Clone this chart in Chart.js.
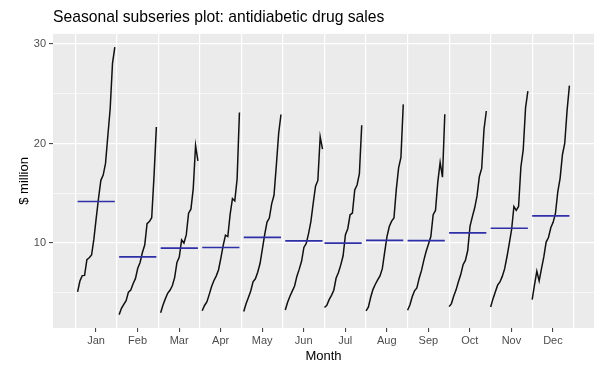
<!DOCTYPE html>
<html><head><meta charset="utf-8">
<script src="https://cdn.jsdelivr.net/npm/chart.js@4/dist/chart.umd.min.js"></script>
<style>html,body{margin:0;padding:0;background:#fff}#wrap{width:600px;height:371px}</style>
</head><body><div id="wrap"><canvas id="c" width="600" height="371"></canvas></div>
<script>
// ---- data: antidiabetic drug sales ($ million), one array per month ----
const months = ['Jan','Feb','Mar','Apr','May','Jun','Jul','Aug','Sep','Oct','Nov','Dec'];
const firstYear = [1992,1992,1992,1992,1992,1992,1991,1991,1991,1991,1991,1991];
const jan = [5.09,6.19,6.73,6.75,8.33,8.52,8.80,10.39,12.51,14.50,16.30,16.83,18.00,20.78,23.49,28.04,29.67];
const feb = [2.81,3.45,3.84,4.22,5.07,5.28,5.92,6.42,7.46,8.05,9.05,9.80,11.94,12.15,12.54,16.76,21.65];
const mar = [2.99,3.77,4.39,4.95,5.26,5.71,6.53,8.06,8.59,10.31,10.00,10.82,13.00,13.40,15.47,19.79,18.26];
const apr = [3.20,3.73,4.08,4.82,5.60,6.21,6.68,7.30,8.47,9.75,10.79,10.65,12.88,14.46,14.23,16.43,23.11];
const may = [3.13,3.91,4.54,5.19,6.11,6.41,7.06,7.94,9.39,10.85,12.11,12.51,13.94,14.80,17.78,21.00,22.91];
const jun = [3.27,4.05,4.65,5.17,5.69,6.67,7.38,8.17,9.56,9.96,10.95,12.16,13.99,15.71,16.29,20.68,19.43];
const jul = [3.53,3.74,4.32,4.75,5.26,6.49,7.05,7.81,8.72,10.83,11.44,12.84,13.00,15.34,15.83,16.98,21.83];
const aug = [3.18,3.56,4.56,5.35,5.86,6.30,6.70,7.43,9.07,10.64,11.66,12.20,12.52,15.37,17.55,18.61,23.93];
const sep = [3.25,3.78,4.61,5.20,5.49,6.47,7.25,8.28,9.18,9.91,10.65,12.85,13.27,16.14,18.10,16.62,22.93];
const oct = [3.61,3.92,4.67,5.30,6.12,6.83,7.82,8.26,9.25,11.71,12.65,13.54,14.73,16.69,17.50,21.43,23.26];
const nov = [3.57,4.39,5.09,5.77,6.09,6.65,7.40,8.60,9.93,11.34,13.67,13.29,13.67,17.64,19.35,23.58,25.25];
const dec = [4.31,5.81,7.18,6.20,7.42,8.61,10.10,10.56,11.53,12.08,12.97,15.13,16.50,18.87,20.03,23.33,25.81];
const yMajorTicks = [10,20,30];
const yMinorTicks = [5,15,25];

const sales = [jan,feb,mar,apr,may,jun,jul,aug,sep,oct,nov,dec];
const startYear = 1991, endYear = 2008;
const seasonWidth = (endYear - startYear) * 1.05;

const datasets = [];
let allX = [], allY = [];
sales.forEach((vals, m) => {
  const pts = vals.map((v, i) => ({x: m + 1 + (firstYear[m] + i - startYear) / seasonWidth, y: v}));
  pts.forEach(p => { allX.push(p.x); allY.push(p.y); });
  datasets.push({data: pts, borderColor: '#111', borderWidth: 1.5, pointRadius: 0, showLine: true, order: 2, tension: 0});
  const avg = vals.reduce((a, b) => a + b, 0) / vals.length;
  datasets.push({data: [{x: pts[0].x, y: avg}, {x: pts[pts.length - 1].x, y: avg}],
    borderColor: '#2f2fa8', borderWidth: 1.7, pointRadius: 0, showLine: true, order: 1});
});
const xr = [Math.min(...allX), Math.max(...allX)];
const yr = [Math.min(...allY), Math.max(...allY)];
const xPad = (xr[1] - xr[0]) * 0.05, yPad = (yr[1] - yr[0]) * 0.05;

const xTicks = [];
for (let k = 1; k <= 13; k++) { xTicks.push(k); if (k <= 12) xTicks.push(k + 0.5); }
const yTicks = [...yMinorTicks, ...yMajorTicks].sort((a, b) => a - b);
const isHalf = v => Math.abs(v - Math.floor(v) - 0.5) < 1e-6;

Chart.defaults.font.family = "'Liberation Sans', Arial, sans-serif";

const bgPlugin = {
  id: 'bg',
  beforeDraw(chart) {
    const {ctx, chartArea: a} = chart;
    ctx.save();
    ctx.fillStyle = '#fff';
    ctx.fillRect(0, 0, chart.width, chart.height);
    ctx.fillStyle = '#EBEBEB';
    ctx.fillRect(a.left, a.top, a.right - a.left, a.bottom - a.top);
    ctx.restore();
  }
};

new Chart(document.getElementById('c'), {
  type: 'scatter',
  data: {datasets},
  plugins: [bgPlugin],
  options: {
    responsive: false,
    animation: false,
    devicePixelRatio: 1,
    layout: {padding: {left: 0, right: 6, top: 0, bottom: 0}},
    plugins: {
      legend: {display: false},
      tooltip: {enabled: false},
      title: {display: true, text: 'Seasonal subseries plot: antidiabetic drug sales', align: 'start',
        fullSize: false, color: '#000', font: {size: 15.7, weight: 'normal'}, padding: {top: 8, bottom: 7}}
    },
    scales: {
      x: {
        type: 'linear', min: xr[0] - xPad, max: xr[1] + xPad,
        afterBuildTicks: s => { s.ticks = xTicks.map(v => ({value: v})); },
        afterFit: s => { s.height = 43; },
        border: {display: false},
        grid: {
          color: c => (c.tick && isHalf(c.tick.value)) ? 'rgba(0,0,0,0)' : '#ffffff',
          lineWidth: 1.2,
          tickColor: c => (c.tick && isHalf(c.tick.value)) ? '#333333' : 'rgba(0,0,0,0)',
          tickLength: 4, tickWidth: 1
        },
        ticks: {autoSkip: false, maxRotation: 0, minRotation: 0, padding: 2, color: '#4D4D4D', font: {size: 11},
          callback: v => isHalf(v) ? months[Math.floor(v) - 1] : ''},
        title: {display: true, text: 'Month', color: '#000', font: {size: 13}, padding: {top: 0, bottom: 7}}
      },
      y: {
        type: 'linear', min: yr[0] - yPad, max: yr[1] + yPad,
        afterBuildTicks: s => { s.ticks = yTicks.map(v => ({value: v})); },
        afterFit: s => { s.width = 53; },
        border: {display: false},
        grid: {
          color: '#ffffff',
          lineWidth: c => (c.tick && yMajorTicks.includes(c.tick.value)) ? 1.2 : 0.6,
          tickColor: c => (c.tick && yMajorTicks.includes(c.tick.value)) ? '#333333' : 'rgba(0,0,0,0)',
          tickLength: 4, tickWidth: 1
        },
        ticks: {autoSkip: false, padding: 3, color: '#4D4D4D', font: {size: 11},
          callback: v => yMajorTicks.includes(v) ? String(v) : ''},
        title: {display: true, text: '$ million', color: '#000', font: {size: 13}, padding: {top: 17, bottom: 0}}
      }
    }
  }
});
</script></body></html>
